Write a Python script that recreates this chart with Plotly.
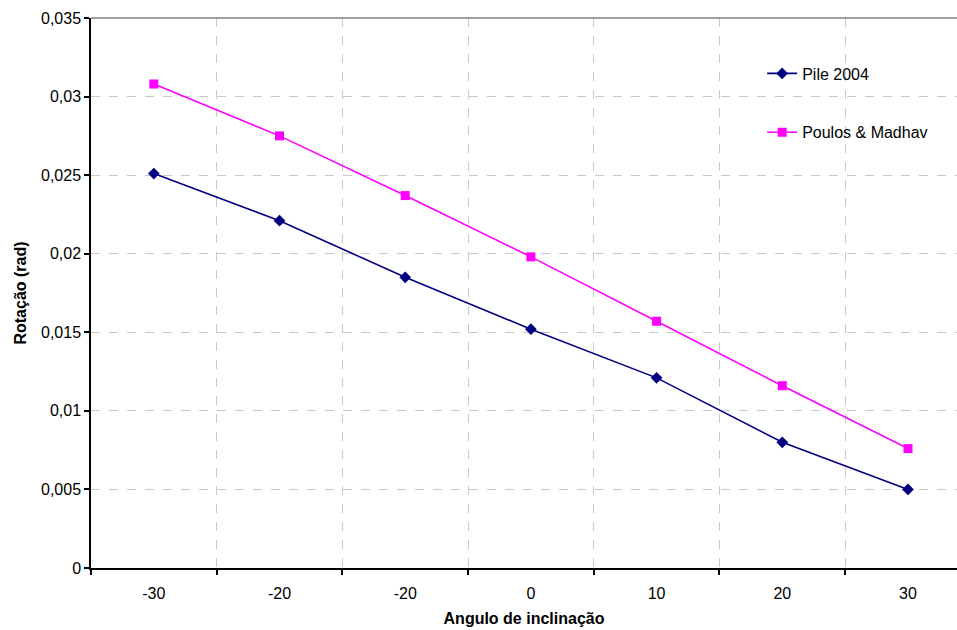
import plotly.graph_objects as go

categories = ["-30", "-20", "-20", "0", "10", "20", "30"]
pile_2004 = [0.0251, 0.0221, 0.0185, 0.0152, 0.0121, 0.0080, 0.0050]
poulos_madhav = [0.0308, 0.0275, 0.0237, 0.0198, 0.0157, 0.0116, 0.0076]
y_ticks = [0, 0.005, 0.01, 0.015, 0.02, 0.025, 0.03, 0.035]

xpos = list(range(len(categories)))
boundaries = [i - 0.5 for i in range(len(categories) + 1)]

FS = 16

fig = go.Figure()
fig.add_trace(go.Scatter(
    x=xpos, y=pile_2004, name="Pile 2004", mode="lines+markers",
    line=dict(color="#000080", width=1.6),
    marker=dict(symbol="diamond", size=9, color="#000080"),
    legendgroup="a"))
fig.add_trace(go.Scatter(
    x=xpos, y=poulos_madhav, name="Poulos & Madhav", mode="lines+markers",
    line=dict(color="#FF00FF", width=1.6),
    marker=dict(symbol="square", size=9, color="#FF00FF"),
    legendgroup="b"))

fig.update_layout(
    width=957, height=630,
    margin=dict(l=91, r=0, t=18, b=62),
    paper_bgcolor="white", plot_bgcolor="white",
    separators=",.",
    font=dict(family="Liberation Sans, Arial, sans-serif", size=FS, color="black"),
    showlegend=True,
    legend=dict(x=0.775, y=0.93, xanchor="left", yanchor="top",
                bgcolor="rgba(0,0,0,0)", tracegroupgap=35,
                traceorder="grouped", font=dict(size=FS), itemwidth=30),
    xaxis=dict(
        range=[-0.5, 6.39], tickmode="array", tickvals=xpos, ticktext=categories,
        showgrid=False, ticks="", zeroline=False,
        showline=True, linecolor="black", linewidth=1.5,
        ticklabelstandoff=10,
        minor=dict(tickmode="array", tickvals=boundaries, showgrid=True,
                   gridcolor="#c8c8c8", griddash="dash", gridwidth=1,
                   ticks="outside", ticklen=5, tickcolor="black", tickwidth=1.5),
        title=dict(text="<b>Angulo de inclinação</b>", font=dict(size=FS), standoff=12),
        tickfont=dict(size=FS),
    ),
    yaxis=dict(
        range=[0, 0.035], tickmode="array", tickvals=y_ticks,
        ticktext=[("%g" % v).replace(".", ",") for v in y_ticks],
        showgrid=True, gridcolor="#c8c8c8", griddash="dash", gridwidth=1,
        zeroline=False, showline=True, linecolor="black", linewidth=1.5,
        ticks="outside", ticklen=5, tickcolor="black", tickwidth=1.5,
        title=dict(text="<b>Rotação (rad)</b>", font=dict(size=FS), standoff=10),
        tickfont=dict(size=FS),
    ),
    shapes=[dict(type="line", xref="paper", yref="paper", x0=0, x1=1, y0=1, y1=1,
                 line=dict(color="#808080", width=1.5))],
)

fig.write_html("out.html")
